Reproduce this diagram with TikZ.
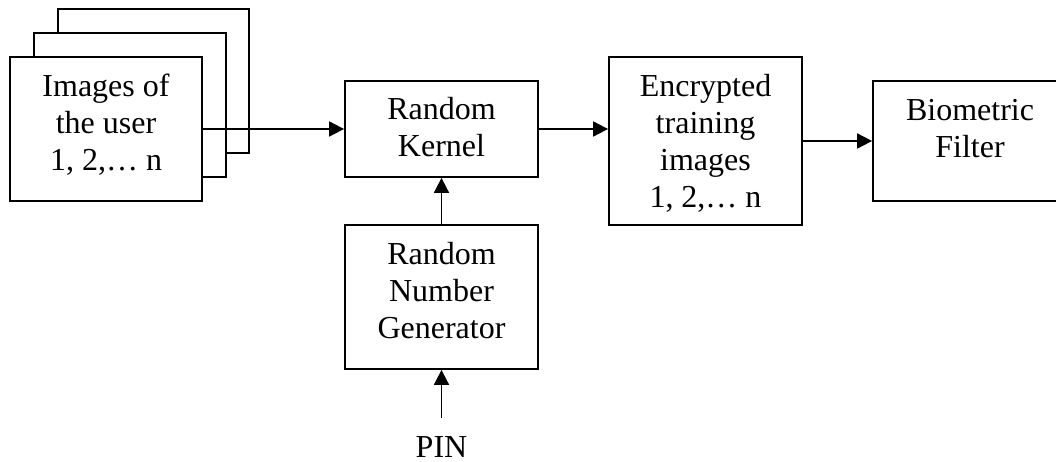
\documentclass[tikz,border=0pt]{standalone}
\usepackage{fontspec}
\setmainfont{Liberation Serif}
\usetikzlibrary{arrows.meta}
\begin{document}
\begin{tikzpicture}[x=1pt,y=-1pt,
  box/.style={draw=black,line width=1.8pt,fill=white,inner sep=0pt,rectangle},
  txt/.style={inner sep=0pt,align=center,font=\fontsize{32}{37}\selectfont},
  arr/.style={line width=1.8pt,-{Triangle[length=15pt,width=15pt]}}]
\useasboundingbox (0,0) rectangle (1056,462);
\clip (0,0) rectangle (1056,462);
% stacked image boxes
\node[box,minimum width=191pt,minimum height=144pt] (back) at (153.5,81) {};
\node[box,minimum width=192pt,minimum height=144pt] (mid) at (130,105) {};
\node[box,minimum width=192pt,minimum height=144pt] (front) at (106,129) {};
\node[txt] (frontT) at (106,126.6) {\strut Images of\\\strut the user\\\strut 1, 2,… n};
% random kernel
\node[box,minimum width=193pt,minimum height=96pt] (kernel) at (441.5,129) {};
\node[txt] (kernelT) at (441.5,131.1) {\strut Random\\\strut Kernel};
% encrypted
\node[box,minimum width=193pt,minimum height=168pt] (enc) at (705.5,141) {};
\node[txt] (encT) at (705.5,144.6) {\strut Encrypted\\\strut training\\\strut images\\\strut 1, 2,… n};
% biometric filter
\node[box,minimum width=194pt,minimum height=120pt] (bio) at (970,141) {};
\node[txt] (bioT) at (970,132.1) {\strut Biometric\\\strut Filter};
% RNG
\node[box,minimum width=193pt,minimum height=144pt] (rng) at (441.5,297) {};
\node[txt] (rngT) at (441.5,294.1) {\strut Random\\\strut Number\\\strut Generator};
% PIN
\node[inner sep=0pt,font=\fontsize{32}{37}\selectfont,anchor=base] (pin) at (441.5,457) {PIN};
% connectors
\draw[arr] (front.east) -- (kernel.west);
\draw[arr] (kernel.east) -- (kernel.east -| enc.west);
\draw[arr] (enc.east) -- (bio.west);
\draw[arr] (rng.north) -- (kernel.south);
\draw[arr] ([yshift=18pt]pin.north) -- (rng.south);
\end{tikzpicture}
\end{document}
